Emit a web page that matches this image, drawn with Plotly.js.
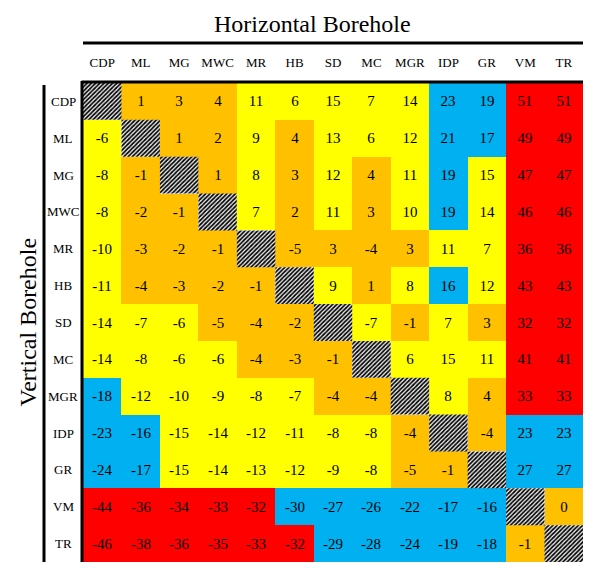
<!DOCTYPE html>
<html>
<head>
<meta charset="utf-8">
<script src="https://cdn.plot.ly/plotly-3.0.1.min.js"></script>
<style>
  html, body { margin: 0; padding: 0; background: #fff; }
  #chart { width: 589px; height: 571px; }
</style>
</head>
<body>
<div id="chart"></div>
<script>
// Borehole names: columns are the horizontal borehole, rows the vertical borehole
var horizontalLabels = ["CDP", "ML", "MG", "MWC", "MR", "HB", "SD", "MC", "MGR", "IDP", "GR", "VM", "TR"];
var verticalLabels   = ["CDP", "ML", "MG", "MWC", "MR", "HB", "SD", "MC", "MGR", "IDP", "GR", "VM", "TR"];

// Pairwise differences, one row per vertical borehole (null on the diagonal)
var rowCDP = [null, 1, 3, 4, 11, 6, 15, 7, 14, 23, 19, 51, 51];
var rowML  = [-6, null, 1, 2, 9, 4, 13, 6, 12, 21, 17, 49, 49];
var rowMG  = [-8, -1, null, 1, 8, 3, 12, 4, 11, 19, 15, 47, 47];
var rowMWC = [-8, -2, -1, null, 7, 2, 11, 3, 10, 19, 14, 46, 46];
var rowMR  = [-10, -3, -2, -1, null, -5, 3, -4, 3, 11, 7, 36, 36];
var rowHB  = [-11, -4, -3, -2, -1, null, 9, 1, 8, 16, 12, 43, 43];
var rowSD  = [-14, -7, -6, -5, -4, -2, null, -7, -1, 7, 3, 32, 32];
var rowMC  = [-14, -8, -6, -6, -4, -3, -1, null, 6, 15, 11, 41, 41];
var rowMGR = [-18, -12, -10, -9, -8, -7, -4, -4, null, 8, 4, 33, 33];
var rowIDP = [-23, -16, -15, -14, -12, -11, -8, -8, -4, null, -4, 23, 23];
var rowGR  = [-24, -17, -15, -14, -13, -12, -9, -8, -5, -1, null, 27, 27];
var rowVM  = [-44, -36, -34, -33, -32, -30, -27, -26, -22, -17, -16, null, 0];
var rowTR  = [-46, -38, -36, -35, -33, -32, -29, -28, -24, -19, -18, -1, null];

var values = [rowCDP, rowML, rowMG, rowMWC, rowMR, rowHB, rowSD, rowMC, rowMGR, rowIDP, rowGR, rowVM, rowTR];

// Colour band by magnitude: <=5 orange, <=15 yellow, <=30 blue, above red
function band(v) {
  if (v === null) return null;
  var a = Math.abs(v);
  if (a <= 5) return 0;
  if (a <= 15) return 1;
  if (a <= 30) return 2;
  return 3;
}

var zBand = values.map(function (r) { return r.map(band); });
var cellText = values.map(function (r) { return r.map(function (v) { return v === null ? "" : String(v); }); });
var idx = horizontalLabels.map(function (_, i) { return i; });

var ORANGE = "#FFC000", YELLOW = "#FFFF00", BLUE = "#00B0F0", RED = "#FF0000";
var SERIF = "Liberation Serif, Times New Roman, serif";

var heat = {
  type: "heatmap",
  x: idx,
  y: idx,
  z: zBand,
  text: cellText,
  texttemplate: "%{text}",
  textfont: { family: SERIF, size: 15, color: "#000" },
  zmin: -0.5,
  zmax: 3.5,
  colorscale: [
    [0, ORANGE], [0.25, ORANGE],
    [0.25, YELLOW], [0.5, YELLOW],
    [0.5, BLUE], [0.75, BLUE],
    [0.75, RED], [1, RED]
  ],
  showscale: false,
  hoverinfo: "skip",
  xgap: 0,
  ygap: 0
};

// Hatched diagonal cells (a borehole against itself)
var diag = {
  type: "bar",
  x: idx,
  y: idx.map(function () { return 1; }),
  base: idx.map(function (i) { return i - 0.5; }),
  width: 1,
  marker: {
    color: "#bbb",
    line: { width: 0 },
    pattern: { shape: "/", fgcolor: "#000", bgcolor: "#f0f0f0", size: 3, solidity: 0.55 }
  },
  hoverinfo: "skip",
  showlegend: false
};

// Row names centred in the band left of the grid
var rowNames = verticalLabels.map(function (lab, i) {
  return {
    text: lab, xref: "paper", yref: "y", x: -0.04, y: i,
    xanchor: "center", yanchor: "middle", showarrow: false,
    font: { family: SERIF, size: 13, color: "#000" }
  };
});

var annotations = rowNames.concat([
  {
    text: "Horizontal Borehole", xref: "paper", yref: "paper",
    x: 0.458, y: 1.124, xanchor: "center", yanchor: "middle", showarrow: false,
    font: { family: SERIF, size: 24, color: "#000" }
  },
  {
    text: "Vertical Borehole", xref: "paper", yref: "paper",
    x: -0.112, y: 0.5, xanchor: "center", yanchor: "middle", showarrow: false,
    textangle: -90,
    font: { family: SERIF, size: 24, color: "#000" }
  }
]);

var shapes = [
  // rule under the column title
  { type: "line", xref: "paper", yref: "paper", x0: 0, x1: 1, y0: 1.0835, y1: 1.0835,
    line: { color: "#000", width: 3 } },
  // rule beside the row title
  { type: "line", xref: "paper", yref: "paper", x0: -0.078, x1: -0.078, y0: 0, y1: 0.996,
    line: { color: "#000", width: 3 } },
  // top border of the grid
  { type: "line", xref: "paper", yref: "paper", x0: -0.003, x1: 1, y0: 1.002, y1: 1.002,
    line: { color: "#000", width: 3 } },
  // left border of the grid
  { type: "line", xref: "paper", yref: "paper", x0: -0.002, x1: -0.002, y0: 0, y1: 1.004,
    line: { color: "#000", width: 3 } }
];

var layout = {
  width: 589,
  height: 571,
  margin: { l: 83, r: 6, t: 83, b: 9 },
  paper_bgcolor: "#fff",
  plot_bgcolor: "#fff",
  showlegend: false,
  xaxis: {
    range: [-0.5, 12.5],
    tickvals: idx,
    ticktext: horizontalLabels,
    side: "top",
    ticks: "",
    ticklabelstandoff: 12,
    showgrid: false,
    zeroline: false,
    showline: false,
    fixedrange: true,
    tickfont: { family: SERIF, size: 13, color: "#000" }
  },
  yaxis: {
    range: [12.5, -0.5],
    showticklabels: false,
    ticks: "",
    showgrid: false,
    zeroline: false,
    showline: false,
    fixedrange: true
  },
  annotations: annotations,
  shapes: shapes
};

Plotly.newPlot("chart", [heat, diag], layout, { displayModeBar: false, staticPlot: true });
</script>
</body>
</html>
